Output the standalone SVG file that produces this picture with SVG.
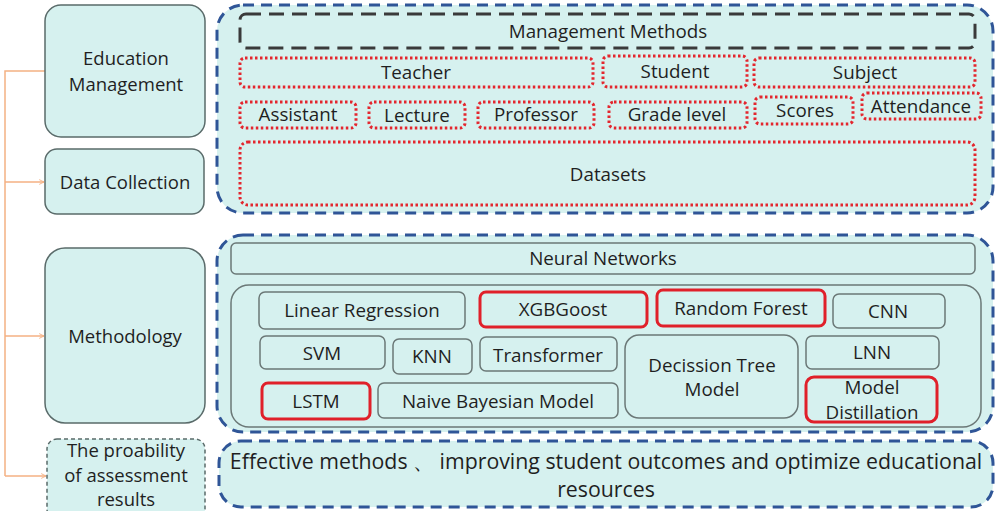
<svg xmlns="http://www.w3.org/2000/svg" width="1000" height="511" viewBox="0 0 1000 511">
<defs>
<marker id="arr" viewBox="0 0 10 10" refX="9" refY="5" markerWidth="6" markerHeight="6" orient="auto" markerUnits="userSpaceOnUse">
<path d="M1,1 L9,5 L1,9" fill="none" stroke="#F4B183" stroke-width="1.5"/>
</marker>
<style>
text{font-family:"Open Sans",Lato,"Liberation Sans",sans-serif;fill:#1f1f1f;text-anchor:middle;}
.t{font-size:18.8px;}
.l{font-size:18.5px;}
.b{font-size:21.3px;}
.lb{fill:#D6F1EF;stroke:#5A6B6A;stroke-width:1.5;}
.blue{fill:#D6F1EF;stroke:#2F5597;stroke-width:3;stroke-dasharray:11 7;}
.gray{fill:none;stroke:#3A3A3A;stroke-width:3;stroke-dasharray:15 8;}
.red{fill:none;stroke:#E3262E;stroke-width:3;stroke-dasharray:2.5 2.5;}
.m{fill:#D6F1EF;stroke:#6B7877;stroke-width:1.5;}
.mr{fill:#D6F1EF;stroke:#E0202A;stroke-width:3;}
.con{fill:none;stroke:#F4B183;stroke-width:1.5;}
</style>
</defs>
<rect width="1000" height="511" fill="#ffffff"/>

<g id="connectors">
<path class="con" d="M45,71 H5 V476"/>
<path class="con" d="M5,182 H44" marker-end="url(#arr)"/>
<path class="con" d="M5,336 H44" marker-end="url(#arr)"/>
<path class="con" d="M5,476 H46" marker-end="url(#arr)"/>
</g>

<g id="education-management">
<rect class="lb" x="45" y="5" width="160" height="132" rx="16"/>
<text class="l" x="126" y="65">Education</text>
<text class="l" x="126" y="91">Management</text>
</g>
<g id="data-collection">
<rect class="lb" x="45" y="149" width="159" height="65" rx="12"/>
<text class="l" x="125" y="189">Data Collection</text>
</g>
<g id="methodology">
<rect class="lb" x="45" y="248" width="160" height="175" rx="20"/>
<text class="l" x="125" y="343">Methodology</text>
</g>
<g id="assessment-results">
<rect x="47" y="439" width="158" height="80" rx="10" fill="#D6F1EF" stroke="#5A6B6A" stroke-width="1.5" stroke-dasharray="4 3"/>
<text class="l" x="126" y="457">The proability</text>
<text class="l" x="126" y="482">of assessment</text>
<text class="l" x="126" y="506">results</text>
</g>

<g id="management-panel">
<rect class="blue" x="217" y="5" width="776" height="208" rx="26"/>
</g>
<g id="management-methods">
<rect class="gray" x="240" y="14" width="735" height="34" rx="6"/>
<text class="t" x="608" y="38">Management Methods</text>
</g>
<g id="teacher"><rect class="red" x="240" y="58" width="353" height="29" rx="5"/><text class="t" x="416" y="79">Teacher</text></g>
<g id="student"><rect class="red" x="603" y="56" width="144" height="31" rx="5"/><text class="t" x="675" y="78">Student</text></g>
<g id="subject"><rect class="red" x="754" y="58" width="221" height="29" rx="5"/><text class="t" x="865" y="79">Subject</text></g>
<g id="assistant"><rect class="red" x="240" y="102" width="116" height="26" rx="5"/><text class="t" x="298" y="121">Assistant</text></g>
<g id="lecture"><rect class="red" x="369" y="102" width="96" height="26" rx="5"/><text class="t" x="417" y="122">Lecture</text></g>
<g id="professor"><rect class="red" x="478" y="102" width="116" height="26" rx="5"/><text class="t" x="536" y="121">Professor</text></g>
<g id="grade-level"><rect class="red" x="609" y="102" width="138" height="26" rx="5"/><text class="t" x="677" y="121">Grade level</text></g>
<g id="scores"><rect class="red" x="755" y="97" width="98" height="27" rx="5"/><text class="t" x="805" y="117">Scores</text></g>
<g id="attendance"><rect class="red" x="862" y="93" width="119" height="26" rx="5"/><text class="t" x="921" y="113">Attendance</text></g>
<g id="datasets"><rect class="red" x="240" y="142" width="735" height="63" rx="8"/><text class="t" x="608" y="181">Datasets</text></g>

<g id="methods-panel">
<rect class="blue" x="217" y="235" width="776" height="197" rx="26"/>
</g>
<g id="neural-networks">
<rect class="m" x="231" y="243" width="744" height="31" rx="5"/>
<text class="t" x="603" y="265">Neural Networks</text>
</g>
<g id="models-group">
<rect class="m" x="231" y="285" width="750" height="142" rx="18"/>
</g>
<g id="linear-regression"><rect class="m" x="259" y="292" width="206" height="37" rx="6"/><text class="t" x="362" y="317">Linear  Regression</text></g>
<g id="xgbgoost"><rect class="mr" x="480" y="292" width="167" height="35" rx="6"/><text class="t" x="563" y="316">XGBGoost</text></g>
<g id="random-forest"><rect class="mr" x="657" y="290" width="168" height="36" rx="6"/><text class="t" x="741" y="315">Random Forest</text></g>
<g id="cnn"><rect class="m" x="833" y="294" width="112" height="34" rx="6"/><text class="t" x="888" y="318">CNN</text></g>
<g id="svm"><rect class="m" x="260" y="336" width="125" height="33" rx="6"/><text class="t" x="322" y="360">SVM</text></g>
<g id="knn"><rect class="m" x="393" y="339" width="79" height="35" rx="6"/><text class="t" x="432" y="363">KNN</text></g>
<g id="transformer"><rect class="m" x="480" y="337" width="137" height="34" rx="6"/><text class="t" x="548" y="362">Transformer</text></g>
<g id="decision-tree"><rect class="m" x="625" y="335" width="173" height="83" rx="14"/><text class="t" x="712" y="372">Decission Tree</text><text class="t" x="712" y="396">Model</text></g>
<g id="lnn"><rect class="m" x="806" y="336" width="133" height="33" rx="6"/><text class="t" x="872" y="359">LNN</text></g>
<g id="lstm"><rect class="mr" x="262" y="383" width="108" height="36" rx="6"/><text class="t" x="316" y="408">LSTM</text></g>
<g id="naive-bayes"><rect class="m" x="378" y="383" width="240" height="35" rx="6"/><text class="t" x="498" y="408">Naive Bayesian Model</text></g>
<g id="model-distillation"><rect class="mr" x="806" y="377" width="131" height="45" rx="8"/><text class="t" x="872" y="394">Model</text><text class="t" x="872" y="419">Distillation</text></g>

<g id="outcomes">
<rect class="blue" x="219" y="441" width="774" height="66" rx="22"/>
<text class="b" x="606" y="469">Effective methods 、 improving student outcomes and optimize educational</text>
<text class="b" x="606" y="497">resources</text>
</g>
</svg>
